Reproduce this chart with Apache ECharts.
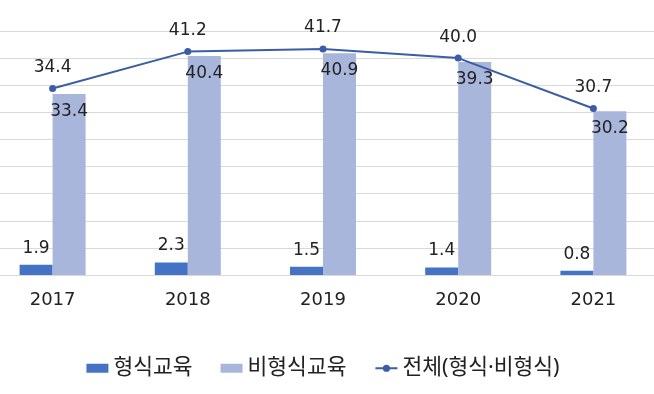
<!DOCTYPE html>
<html><head><meta charset="utf-8">
<script src="https://cdn.jsdelivr.net/npm/echarts@6/dist/echarts.min.js"></script>
<style>html,body{margin:0;padding:0;background:#fff;overflow:hidden}#c{width:676px;height:394px;margin-left:-15px}</style>
</head><body><div id="c"></div>
<script>
const categories = ['2017','2018','2019','2020','2021'];
const formal = [1.9, 2.3, 1.5, 1.4, 0.8];
const nonFormal = [33.4, 40.4, 40.9, 39.3, 30.2];
const total = [34.4, 41.2, 41.7, 40.0, 30.7];
const seriesNames = ['형식교육', '비형식교육', '전체(형식·비형식)'];

const numFont = "'DejaVu Sans', 'Noto Sans CJK KR', sans-serif";
const krFont = "'Noto Sans', 'Noto Sans CJK KR', sans-serif";
const fmt = p => Number(p.value).toFixed(1);
const chart = echarts.init(document.getElementById('c'), null, {renderer: 'canvas'});
chart.setOption({
  animation: false,
  textStyle: {fontFamily: numFont},
  grid: {left: 0, right: 0, top: 31, bottom: 119},
  legend: {
    bottom: 10, left: 'center', padding: [5, 5, 5, 16], itemGap: 28, itemWidth: 22, itemHeight: 9,
    textStyle: {fontSize: 21.5, color: '#222', fontFamily: krFont},
    data: [
      {name: seriesNames[0], icon: 'rect'},
      {name: seriesNames[1], icon: 'rect'},
      {name: seriesNames[2]}
    ]
  },
  xAxis: {
    type: 'category', data: categories,
    axisTick: {show: false},
    axisLine: {lineStyle: {color: '#d9d9d9', width: 1}},
    axisLabel: {fontSize: 18, color: '#222', margin: 16, fontFamily: numFont}
  },
  yAxis: {
    type: 'value', min: 0, max: 45, interval: 5,
    axisLabel: {show: false}, axisLine: {show: false}, axisTick: {show: false},
    splitLine: {lineStyle: {color: '#d9d9d9', width: 1}}
  },
  series: [
    {
      name: seriesNames[0], type: 'bar', data: formal, barWidth: 33, barGap: '0%',
      itemStyle: {color: '#4472C4'},
      label: {show: true, position: 'top', distance: 8, fontSize: 17, color: '#222', fontFamily: numFont, formatter: fmt}
    },
    {
      name: seriesNames[1], type: 'bar', data: nonFormal, barWidth: 33,
      itemStyle: {color: '#A9B6DC'},
      label: {show: true, position: 'insideTop', distance: 9, fontSize: 17, color: '#222', fontFamily: numFont, formatter: fmt}
    },
    {
      name: seriesNames[2], type: 'line', data: total,
      symbol: 'circle', symbolSize: 7,
      lineStyle: {color: '#3B5CA6', width: 2},
      itemStyle: {color: '#3B5CA6'},
      label: {show: true, position: 'top', distance: 9, fontSize: 17, color: '#222', fontFamily: numFont, formatter: fmt}
    }
  ]
});
</script></body></html>
